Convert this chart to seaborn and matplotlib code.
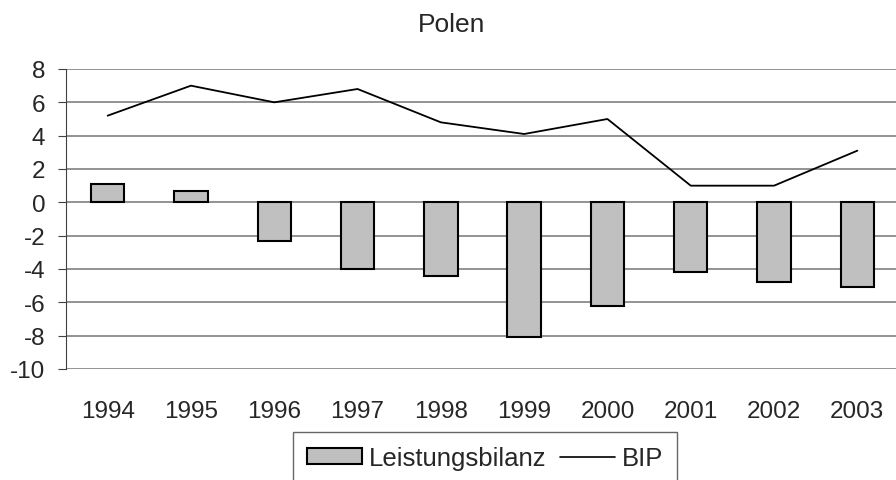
import numpy as np
import pandas as pd
import matplotlib
matplotlib.use("Agg")
import matplotlib.pyplot as plt
import seaborn as sns
from matplotlib.patches import Patch
from matplotlib.lines import Line2D

# Daten
jahre = ["1994", "1995", "1996", "1997", "1998", "1999", "2000", "2001", "2002", "2003"]
leistungsbilanz = [1.1, 0.7, -2.3, -4.0, -4.4, -8.1, -6.2, -4.2, -4.8, -5.1]
bip = [5.2, 7.0, 6.0, 6.8, 4.8, 4.1, 5.0, 1.0, 1.0, 3.1]

sns.set_style("white")
plt.rcParams["font.family"] = ["Liberation Sans", "DejaVu Sans"]
plt.rcParams["font.size"] = 17
plt.rcParams["axes.unicode_minus"] = False

df = pd.DataFrame({"Jahr": jahre, "Leistungsbilanz": leistungsbilanz, "BIP": bip})

fig = plt.figure(figsize=(8.96, 4.81), dpi=100)
ax = fig.add_axes([66 / 896, 1 - 370 / 481, 833 / 896, 300 / 481])

ax.set_axisbelow(True)
ax.yaxis.grid(True, color="#808080", lw=1.2)
sns.barplot(data=df, x="Jahr", y="Leistungsbilanz", color="#C0C0C0",
            edgecolor="black", linewidth=1.5, width=0.4, saturation=1, ax=ax)
sns.lineplot(x=np.arange(len(jahre)), y=df["BIP"], color="black", lw=1.3,
             sort=False, ax=ax)

ax.set_xlim(-0.5, len(jahre) - 0.5)
ax.set_ylim(-10, 8)
ax.set_yticks(range(-10, 9, 2))
ax.set_xlabel("")
ax.set_ylabel("")
for s in ["top", "right", "bottom"]:
    ax.spines[s].set_visible(False)
ax.spines["left"].set_color("#404040")
ax.tick_params(axis="y", left=True, length=6, color="#404040", labelsize=17.5, pad=9)
ax.tick_params(axis="x", bottom=False, labelsize=17.5, pad=19)

fig.text(452 / 896, 1 - 25 / 481, "Polen", ha="center", va="center", fontsize=19)

handles = [Patch(facecolor="#C0C0C0", edgecolor="black", lw=1.5),
           Line2D([0], [0], color="black", lw=1.2)]
leg = fig.legend(handles, ["Leistungsbilanz", "BIP"], loc="upper left",
                 bbox_to_anchor=(293 / 896, 1 - 433 / 481), ncol=2,
                 frameon=True, fancybox=False, fontsize=18.5, handlelength=2.15,
                 handleheight=0.55, handletextpad=0.27, columnspacing=0.5,
                 borderpad=0.55, borderaxespad=0)
leg.get_frame().set_edgecolor("#404040")
leg.get_frame().set_linewidth(1.0)

fig.savefig("out.png", dpi=100)
